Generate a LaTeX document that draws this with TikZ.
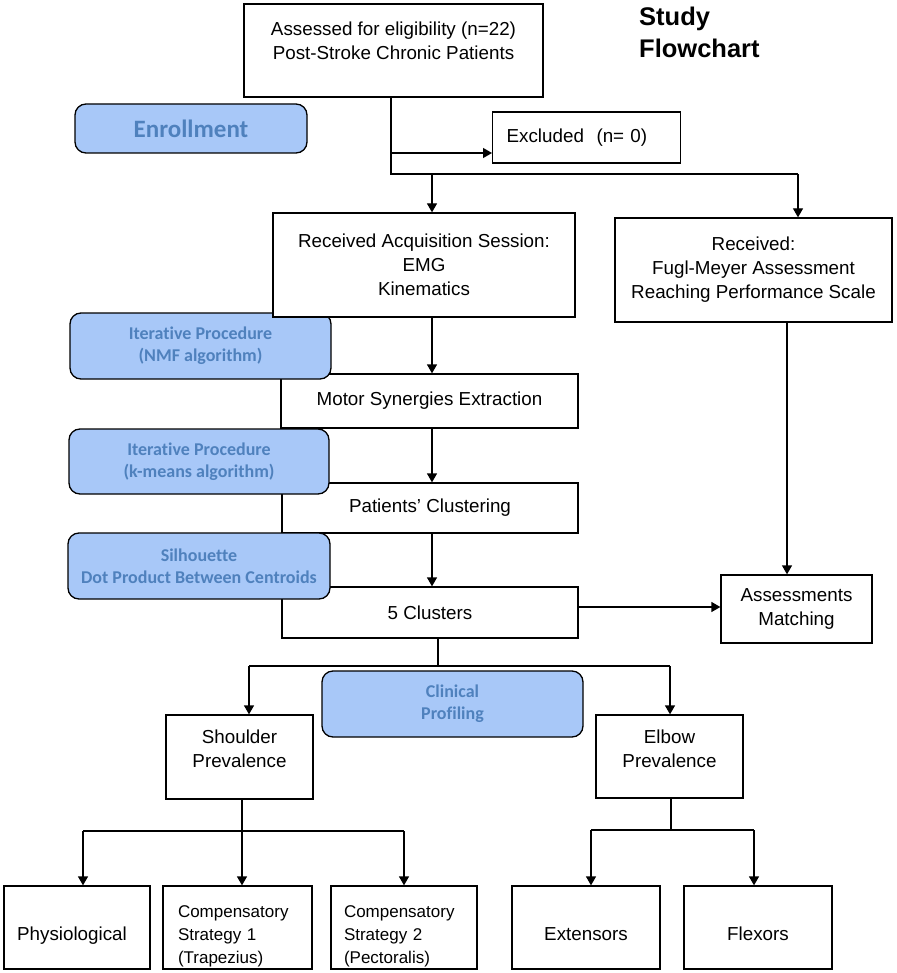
\documentclass[tikz,border=0pt]{standalone}
\usepackage{fontspec}
\setmainfont{Liberation Sans}
\newfontfamily\calfont[Ligatures={NoCommon,NoRare}]{Carlito}
\usetikzlibrary{arrows.meta}
\definecolor{bluefill}{RGB}{168,200,248}
\definecolor{bluetext}{RGB}{79,129,189}
\begin{document}
\begin{tikzpicture}[x=1pt,y=-1pt,
  box/.style={draw, line width=1.3pt, fill=white, align=center, inner sep=0pt,
    font=\fontsize{18.8}{24}\selectfont},
  bluebox/.style={draw, line width=1.3pt, rounded corners=11pt, fill=bluefill, text=bluetext,
    align=center, inner sep=0pt, font=\calfont\bfseries\fontsize{18}{22}\selectfont},
  conn/.style={line width=1.3pt},
  arr/.style={line width=1.3pt, -{Triangle[length=9pt,width=10pt]}}]
\useasboundingbox (0,0) rectangle (896,973);

% title
\node[anchor=north west, align=left, inner sep=0pt, font=\bfseries\fontsize{25.5}{32}\selectfont] (title) at (639,7) {Study\\Flowchart};

% main chain boxes
\node[box, minimum width=297pt, minimum height=54pt] (motor) at (429.5,401) {Motor Synergies Extraction};
\node[box, minimum width=296pt, minimum height=50pt] (patients) at (430,508) {Patients’ Clustering};
\node[box, minimum width=296pt, minimum height=51pt] (clusters) at (430,612.5) {5 Clusters};

% blue procedure boxes
\node[bluebox, minimum width=261pt, minimum height=66pt] (nmf) at (200.5,346) {Iterative Procedure\\(NMF algorithm)};
\node[bluebox, minimum width=260pt, minimum height=65pt] (kmeans) at (199,461.5) {Iterative Procedure\\(k-means algorithm)};
\node[bluebox, minimum width=262pt, minimum height=66pt] (silh) at (199,566) {Silhouette\\Dot Product Between Centroids};
\node[bluebox, minimum width=232pt, minimum height=49pt, font=\calfont\bfseries\fontsize{25}{28}\selectfont] (enroll) at (191,128.5) {Enrollment};
\node[bluebox, minimum width=261pt, minimum height=66pt] (clin) at (452.5,704) {Clinical\\Profiling};

% other boxes
\node[box, minimum width=299pt, minimum height=93pt] (top) at (393.5,50.5) {Assessed for eligibility (n=22)\\Post-Stroke Chronic Patients\\[-4pt]\mbox{}};
\node[box, anchor=west, minimum width=188pt, minimum height=51pt, text width=160pt, align=left, inner xsep=14pt] (excl) at (492,137.5) {Excluded\ \ (n= 0)};
\node[box, minimum width=302pt, minimum height=104pt] (recv) at (424,265) {Received Acquisition Session:\\EMG\\Kinematics};
\node[box, minimum width=277pt, minimum height=104pt] (recv2) at (753.5,270) {Received:\\Fugl-Meyer Assessment\\Reaching Performance Scale};
\node[box, minimum width=151pt, minimum height=68pt] (assess) at (796.5,609) {Assessments\\Matching};
\node[box, minimum width=147pt, minimum height=84pt] (shoulder) at (239.5,757) {Shoulder\\Prevalence\\[-8pt]\mbox{}};
\node[box, minimum width=147pt, minimum height=83pt] (elbow) at (669.5,756.5) {Elbow\\Prevalence\\[-8pt]\mbox{}};
\node[box, minimum width=146pt, minimum height=83pt] (phys) at (77,927.5) {\hspace*{-10pt}\rule{0pt}{30pt}Physiological};
\node[box, minimum width=149pt, minimum height=83pt, text width=119pt, align=left, inner xsep=15pt, font=\fontsize{17}{23}\selectfont] (comp1) at (237.5,927.5) {\mbox{}\\[7pt]Compensatory\\Strategy 1\\(Trapezius)};
\node[box, minimum width=146pt, minimum height=83pt, text width=120pt, align=left, inner xsep=13pt, font=\fontsize{17}{23}\selectfont] (comp2) at (404,927.5) {\mbox{}\\[7pt]Compensatory\\Strategy 2\\(Pectoralis)};
\node[box, minimum width=148pt, minimum height=83pt] (ext) at (586,927.5) {\rule{0pt}{25.5pt}Extensors};
\node[box, minimum width=148pt, minimum height=83pt] (flex) at (758,927.5) {\rule{0pt}{25.5pt}Flexors};

% junction coordinates
\coordinate (j1) at (391,174);
\coordinate (j2) at (798,174);
\coordinate (j3) at (432,174);
\coordinate (e1) at (391,153);
\coordinate (c1) at (578,607);
\coordinate (r2) at (787,322);
\coordinate (k1) at (438,666);
\coordinate (k2) at (249,666);
\coordinate (k3) at (670,666);
\coordinate (s1) at (242,831);
\coordinate (s2) at (83,831);
\coordinate (s3) at (404,831);
\coordinate (t1) at (671,830);
\coordinate (t2) at (591,830);
\coordinate (t3) at (754,830);

% connectors
\draw[conn] (top.south -| j1) -- (j1) -- (j2);
\draw[arr] (e1) -- (e1 -| excl.west);
\draw[arr] (j3) -- (j3 |- recv.north);
\draw[arr] (j2) -- (j2 |- recv2.north);
\draw[arr] (recv.south -| j3) -- (motor.north -| j3);
\draw[arr] (motor.south -| j3) -- (patients.north -| j3);
\draw[arr] (patients.south -| j3) -- (clusters.north -| j3);
\draw[arr] (c1) -- (c1 -| assess.west);
\draw[arr] (r2) -- (r2 |- assess.north);
\draw[conn] (clusters.south -| k1) -- (k1);
\draw[conn] (k2) -- (k3);
\draw[arr] (k2) -- (k2 |- shoulder.north);
\draw[arr] (k3) -- (k3 |- elbow.north);
\draw[conn] (shoulder.south -| s1) -- (s1);
\draw[conn] (s2) -- (s3);
\draw[arr] (s2) -- (s2 |- phys.north);
\draw[arr] (s1) -- (s1 |- comp1.north);
\draw[arr] (s3) -- (s3 |- comp2.north);
\draw[conn] (elbow.south -| t1) -- (t1);
\draw[conn] (t2) -- (t3);
\draw[arr] (t2) -- (t2 |- ext.north);
\draw[arr] (t3) -- (t3 |- flex.north);
\end{tikzpicture}
\end{document}
